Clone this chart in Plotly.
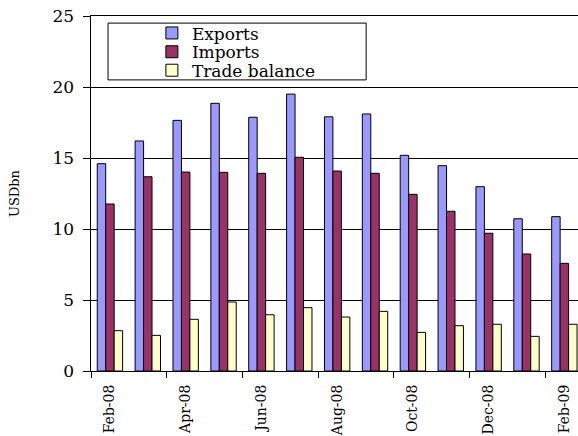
import plotly.graph_objects as go

months = ['Feb-08', 'Mar-08', 'Apr-08', 'May-08', 'Jun-08', 'Jul-08', 'Aug-08',
          'Sep-08', 'Oct-08', 'Nov-08', 'Dec-08', 'Jan-09', 'Feb-09']
exports = [14.6, 16.2, 17.65, 18.85, 17.87, 19.5, 17.9, 18.1, 15.19, 14.46, 12.98, 10.72, 10.87]
imports = [11.76, 13.68, 14.01, 13.99, 13.92, 15.05, 14.08, 13.92, 12.44, 11.25, 9.7, 8.24, 7.58]
trade_balance = [2.84, 2.51, 3.64, 4.86, 3.96, 4.46, 3.8, 4.2, 2.72, 3.19, 3.29, 2.44, 3.29]

x = list(range(len(months)))
serif = 'DejaVu Serif'
legend_font = dict(family=serif, size=17, color='black')

fig = go.Figure()
fig.add_trace(go.Bar(name='Exports', x=x, y=exports, legend='legend',
                     marker=dict(color='#9999FF', line=dict(color='black', width=1))))
fig.add_trace(go.Bar(name='Imports', x=x, y=imports, legend='legend2',
                     marker=dict(color='#993366', line=dict(color='black', width=1))))
fig.add_trace(go.Bar(name='Trade balance', x=x, y=trade_balance, legend='legend3',
                     marker=dict(color='#FFFFCC', line=dict(color='black', width=1))))

# x axis: labels every other month, tick marks at category boundaries
fig.update_xaxes(
    range=[-0.5, 12.36], automargin=False,
    tickmode='array', tickvals=x[::2], ticktext=months[::2], tickangle=-90,
    ticks='outside', ticklen=7, tickcolor='rgba(0,0,0,0)',
    minor=dict(tickmode='linear', tick0=-0.5, dtick=2, ticks='outside', ticklen=6, tickcolor='black'),
    showline=True, linecolor='black', linewidth=1, mirror=True,
    showgrid=False, zeroline=False,
    tickfont=dict(family=serif, size=14, color='black'),
)
fig.update_yaxes(
    range=[0, 25], dtick=5, automargin=False, ticklabeloverflow='allow',
    ticks='outside', ticklen=7, tickcolor='black', ticksuffix=' ',
    showline=True, linecolor='black', linewidth=1,
    showgrid=True, gridcolor='black', gridwidth=1, zeroline=False,
    tickfont=dict(family=serif, size=17, color='black'),
    title=dict(text='USDbn', font=dict(family=serif, size=13, color='black'), standoff=30),
)
# legend frame
fig.add_shape(type='rect', xref='paper', yref='paper', x0=0.035, x1=0.565, y0=0.82, y1=0.98,
              line=dict(color='black', width=1), fillcolor='white', layer='below')

leg = dict(x=0.125, xanchor='left', yanchor='middle', bgcolor='rgba(0,0,0,0)',
           borderwidth=0, font=legend_font)
fig.update_layout(
    width=578, height=436,
    margin=dict(l=91, r=0, t=16, b=65),
    barmode='group', bargap=0.33, bargroupgap=0,
    plot_bgcolor='rgba(0,0,0,0)', paper_bgcolor='white',
    showlegend=True,
    legend=dict(leg, y=0.951),
    legend2=dict(leg, y=0.898),
    legend3=dict(leg, y=0.846),
)

# drop the default 8px page margin so the figure fills the window
fig.write_html("out.html", config={'displayModeBar': False},
               post_script="document.body.style.margin = '0';")
